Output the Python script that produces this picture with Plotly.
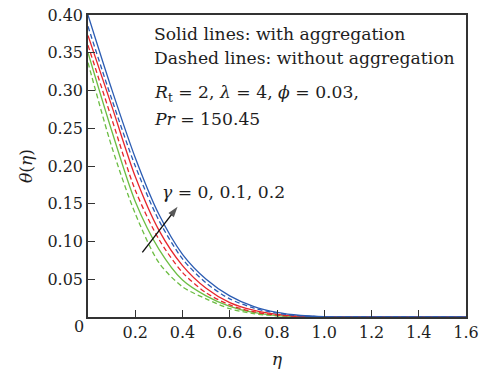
import plotly.graph_objects as go

# Similarity variable eta and temperature profiles theta(eta)
eta = [0.0, 0.1, 0.2, 0.3, 0.4, 0.5, 0.6, 0.7, 0.8, 0.9, 1.0, 1.2, 1.4, 1.6]

# gamma = 0.2 (blue), 0.1 (red), 0 (green); solid = with aggregation, dashed = without
theta_blue_agg = [0.400, 0.302, 0.211, 0.136, 0.083, 0.050, 0.028, 0.014, 0.006, 0.002, 0.0005, 0.0, 0.0, 0.0]
theta_blue_noagg = [0.385, 0.289, 0.200, 0.128, 0.077, 0.045, 0.024, 0.012, 0.005, 0.0015, 0.0003, 0.0, 0.0, 0.0]
theta_red_agg = [0.373, 0.280, 0.186, 0.115, 0.068, 0.038, 0.019, 0.009, 0.0035, 0.001, 0.0002, 0.0, 0.0, 0.0]
theta_red_noagg = [0.360, 0.263, 0.168, 0.103, 0.059, 0.032, 0.016, 0.007, 0.0025, 0.0007, 0.0001, 0.0, 0.0, 0.0]
theta_green_agg = [0.350, 0.247, 0.153, 0.090, 0.049, 0.028, 0.014, 0.006, 0.0018, 0.0005, 0.0001, 0.0, 0.0, 0.0]
theta_green_noagg = [0.337, 0.226, 0.137, 0.072, 0.040, 0.024, 0.011, 0.0045, 0.0015, 0.0004, 0.0001, 0.0, 0.0, 0.0]

x_ticks = [0.2, 0.4, 0.6, 0.8, 1.0, 1.2, 1.4, 1.6]
x_tick_text = ["0.2", "0.4", "0.6", "0.8", "1.0", "1.2", "1.4", "1.6"]
y_ticks = [0.05, 0.10, 0.15, 0.20, 0.25, 0.30, 0.35, 0.40]
y_tick_text = ["0.05", "0.10", "0.15", "0.20", "0.25", "0.30", "0.35", "0.40"]

# direction of increasing gamma (tail -> head), in data units
arrow_eta = [0.230, 0.379]
arrow_theta = [0.0856, 0.146]

BLUE = "#2b5cb3"
RED = "#e6262c"
GREEN = "#6cbd43"
FONT = "DejaVu Serif"
INK = "#1e1e1e"

series = [
    (theta_green_noagg, GREEN, "5px,3px"),
    (theta_green_agg, GREEN, "solid"),
    (theta_red_noagg, RED, "5px,3px"),
    (theta_red_agg, RED, "solid"),
    (theta_blue_noagg, BLUE, "5px,3px"),
    (theta_blue_agg, BLUE, "solid"),
]

fig = go.Figure()
for ys, color, dash in series:
    fig.add_trace(go.Scatter(
        x=eta, y=ys, mode="lines",
        line=dict(color=color, width=1.3, dash=dash, shape="spline", smoothing=0.8),
        showlegend=False, hoverinfo="skip",
    ))

# arrow: a line segment ending in an arrow-shaped marker
fig.add_trace(go.Scatter(
    x=arrow_eta, y=arrow_theta, mode="lines+markers",
    line=dict(color="#111111", width=1.4),
    marker=dict(symbol=["circle", "arrow"], size=[0, 11], angleref="previous",
                color="#111111", line=dict(width=0)),
    showlegend=False, hoverinfo="skip",
))

txt = dict(family=FONT, size=17.2, color=INK)

axis_common = dict(
    showline=True, linecolor="#333333", linewidth=1.5, mirror=True,
    ticks="inside", ticklen=7, tickwidth=1.3, tickcolor="#333333",
    showgrid=False, zeroline=False, automargin=False,
    tickfont=dict(family=FONT, size=16, color=INK),
)

fig.update_xaxes(range=[0, 1.6], tickvals=x_ticks, ticktext=x_tick_text,
                 title=dict(text="<i>η</i>", font=txt, standoff=12), **axis_common)
fig.update_yaxes(range=[0, 0.40], tickvals=y_ticks, ticktext=y_tick_text,
                 title=dict(text="<i>θ</i>(<i>η</i>)", font=txt, standoff=10), **axis_common)

annotations = [
    dict(x=0.272, y=0.375, text="Solid lines: with aggregation"),
    dict(x=0.272, y=0.343, text="Dashed lines: without aggregation"),
    dict(x=0.272, y=0.2955, text="<i>R</i><sub>t</sub> = 2, <i>λ</i> = 4, <i>ϕ</i> = 0.03,"),
    dict(x=0.272, y=0.2625, text="<i>Pr</i> = 150.45"),
    dict(x=0.306, y=0.165, text="<i>γ</i> = 0, 0.1, 0.2"),
]
for a in annotations:
    fig.add_annotation(xref="x", yref="y", xanchor="left", yanchor="middle",
                       showarrow=False, font=txt, **a)

# shared origin label
fig.add_annotation(xref="paper", yref="paper", x=-0.024, y=-0.03, text="0",
                   showarrow=False, font=dict(family=FONT, size=16, color=INK),
                   xanchor="center", yanchor="middle")

fig.update_layout(
    width=482, height=369,
    margin=dict(l=88, r=16, t=15, b=52),
    paper_bgcolor="white", plot_bgcolor="white",
)

fig.write_html("out.html")
